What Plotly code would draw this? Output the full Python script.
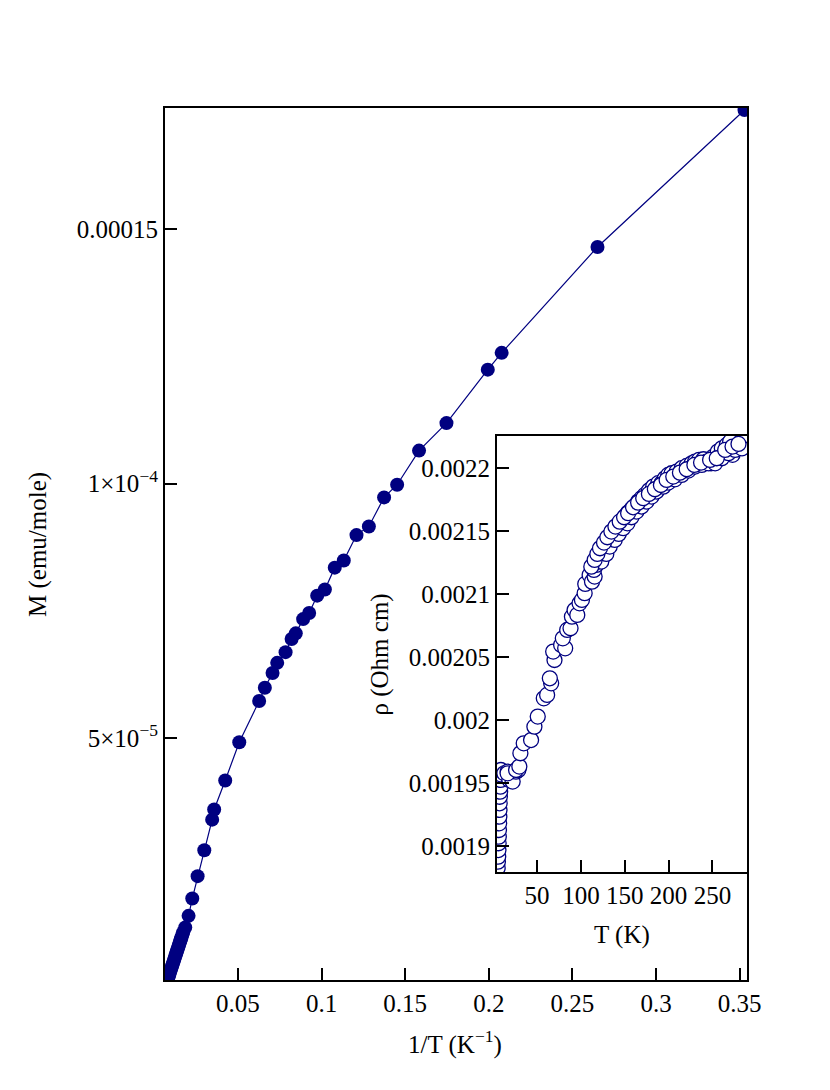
import plotly.graph_objects as go

# main panel: magnetisation vs inverse temperature
inv_T = [0.3529, 0.2650, 0.2077, 0.1994, 0.1747, 0.1583, 0.1452, 0.1374, 0.1283, 0.1209,
         0.1133, 0.1079, 0.1020, 0.0974, 0.0926, 0.0890, 0.0846, 0.0821, 0.0785, 0.0735,
         0.0707, 0.0661, 0.0627, 0.0508, 0.0424, 0.0358, 0.0346, 0.0299, 0.0259, 0.0227,
         0.0205, 0.0185, 0.0173, 0.0168, 0.0163, 0.0159, 0.0155, 0.0151, 0.0147, 0.0143,
         0.0139, 0.0135, 0.0131, 0.0127, 0.0123, 0.0119, 0.0115, 0.0111, 0.0107, 0.0103,
         0.0099, 0.0095, 0.0091, 0.0087, 0.0083, 0.0079, 0.0075, 0.0071, 0.0067, 0.0063]
M_emu = [1.734e-4, 1.465e-4, 1.257e-4, 1.224e-4, 1.119e-4, 1.065e-4, 0.998e-4, 0.973e-4, 0.916e-4, 0.899e-4,
         0.849e-4, 0.835e-4, 0.792e-4, 0.780e-4, 0.746e-4, 0.734e-4, 0.706e-4, 0.695e-4, 0.669e-4, 0.648e-4,
         0.628e-4, 0.599e-4, 0.573e-4, 0.492e-4, 0.417e-4, 0.360e-4, 0.340e-4, 0.280e-4, 0.229e-4, 0.185e-4,
         0.151e-4, 0.128e-4, 0.119e-4, 0.114e-4, 0.109e-4, 0.105e-4, 0.101e-4, 0.097e-4, 0.093e-4, 0.089e-4,
         0.085e-4, 0.081e-4, 0.077e-4, 0.073e-4, 0.069e-4, 0.065e-4, 0.061e-4, 0.057e-4, 0.053e-4, 0.049e-4,
         0.045e-4, 0.041e-4, 0.037e-4, 0.033e-4, 0.029e-4, 0.025e-4, 0.021e-4, 0.017e-4, 0.013e-4, 0.009e-4]

# inset: resistivity vs temperature
T_K = [5.0, 5.3, 5.6, 5.9, 6.1, 6.3, 6.5, 6.7, 6.9, 7.1, 7.3, 7.5, 7.8, 8.1, 8.5, 8.8,
       8.7, 12.6, 16.4, 18.3, 22.1, 25.9, 28.6, 16.3, 26.0, 29.7,
       30.9, 34.7, 43.1, 46.9, 50.7, 57.6, 61.4, 66.0, 64.5, 69.8, 68.3, 77.4, 82.0, 79.3,
       84.3, 88.1, 89.7, 92.7, 95.8, 98.4, 101.1, 104.2, 104.9, 109.9, 112.6, 115.6, 114.8,
       117.5, 120.2, 122.5, 125.2, 127.8, 130.9, 133.9, 136.6, 139.3, 142.3, 145.4, 148.1,
       150.7, 153.8, 157.6, 161.4, 165.2, 169.1, 172.9, 177.5, 182.4, 188.1, 191.9, 195.8,
       199.6, 203.4, 209.1, 214.9, 220.6, 226.3, 230.1, 234.7, 239.7, 243.5, 248.4, 251.1,
       256.1, 260.7, 266.4, 270.2, 272.9, 277.8, 282.8, 286.6,
       123.2, 128.9, 132.8, 138.5, 143.1, 148.1, 153.0, 157.6, 163.3, 169.1, 174.8, 180.5,
       186.2, 193.9, 199.6, 207.2, 214.9, 222.5, 230.1, 237.8, 245.4, 253.0, 260.7, 268.3,
       275.9, 283.6,
       111.8, 115.6, 118.7, 121.7, 126.3, 130.1, 134.7, 139.3, 144.2, 149.2, 153.8, 159.5,
       165.2, 171.0, 177.5, 184.3, 191.2, 197.7, 205.3, 212.9, 220.6, 229.4, 237.0, 247.3,
       254.9, 264.5, 272.9, 279.7]
rho = [0.0018828, 0.0018878, 0.0018917, 0.0018970, 0.0019024, 0.0019076, 0.0019129, 0.0019182,
       0.0019235, 0.0019288, 0.0019341, 0.0019393, 0.0019433, 0.0019473, 0.0019526, 0.0019570,
       0.0019605, 0.0019579, 0.0019592, 0.0019526, 0.0019513, 0.0019592, 0.0019605, 0.0019579,
       0.0019605, 0.0019632,
       0.0019738, 0.0019817, 0.0019843, 0.0019949, 0.0020029, 0.0020174, 0.0020201, 0.0020293,
       0.0020333, 0.0020478, 0.0020545, 0.0020598, 0.0020571, 0.0020650, 0.0020717, 0.0020730,
       0.0020822, 0.0020875, 0.0020836, 0.0020928, 0.0020955, 0.0021008, 0.0021082, 0.0021153,
       0.0021100, 0.0021140, 0.0021193, 0.0021233, 0.0021259, 0.0021299, 0.0021338, 0.0021373,
       0.0021404, 0.0021444, 0.0021471, 0.0021497, 0.0021531, 0.0021563, 0.0021590, 0.0021621,
       0.0021648, 0.0021674, 0.0021701, 0.0021735, 0.0021762, 0.0021788, 0.0021823, 0.0021854,
       0.0021881, 0.0021881, 0.0021920, 0.0021947, 0.0021960, 0.0021973, 0.0022000, 0.0022018,
       0.0022039, 0.0022053, 0.0022066, 0.0022071, 0.0022053, 0.0022039, 0.0022092, 0.0022132,
       0.0022158, 0.0022185, 0.0022211, 0.0022106, 0.0022158, 0.0022185, 0.0022211,
       0.0021259, 0.0021320, 0.0021378, 0.0021431, 0.0021479, 0.0021524, 0.0021563, 0.0021611,
       0.0021656, 0.0021696, 0.0021735, 0.0021775, 0.0021815, 0.0021854, 0.0021886, 0.0021912,
       0.0021947, 0.0021981, 0.0022013, 0.0022026, 0.0022039, 0.0022039, 0.0022079, 0.0022119,
       0.0022145, 0.0022158,
       0.0021219, 0.0021272, 0.0021320, 0.0021365, 0.0021410, 0.0021452, 0.0021497, 0.0021537,
       0.0021576, 0.0021611, 0.0021643, 0.0021690, 0.0021727, 0.0021762, 0.0021796, 0.0021833,
       0.0021867, 0.0021907, 0.0021934, 0.0021965, 0.0021992, 0.0022026, 0.0022045, 0.0022066,
       0.0022079, 0.0022145, 0.0022172, 0.0022193]

main_xticks = [0.05, 0.1, 0.15, 0.2, 0.25, 0.3, 0.35]
main_xticklabels = ["0.05", "0.1", "0.15", "0.2", "0.25", "0.3", "0.35"]
main_yticks = [5e-5, 1e-4, 1.5e-4]
main_yticklabels = ["5\u00d710<sup>\u22125</sup>", "1\u00d710<sup>\u22124</sup>", "0.00015"]
inset_xticks = [50, 100, 150, 200, 250]
inset_yticks = [0.0019, 0.00195, 0.002, 0.00205, 0.0021, 0.00215, 0.0022]
inset_yticklabels = ["0.0019", "0.00195", "0.002", "0.00205", "0.0021", "0.00215", "0.0022"]

navy = "#000080"
serif = "Liberation Serif"
fsize = 25

fig = go.Figure()

fig.add_trace(go.Scatter(
    x=inv_T, y=M_emu, mode="lines+markers",
    line=dict(color=navy, width=1.2),
    marker=dict(color=navy, size=14),
    xaxis="x", yaxis="y", showlegend=False,
))

fig.add_trace(go.Scatter(
    x=T_K, y=rho, mode="markers",
    marker=dict(color="white", size=15, line=dict(color=navy, width=1.3)),
    xaxis="x2", yaxis="y2", showlegend=False,
))

axis_common = dict(
    showgrid=False, zeroline=False, showline=True, linecolor="black", linewidth=2,
    mirror=True, ticks="inside", ticklen=12, tickwidth=1.5, tickcolor="black",
    tickangle=0, tickfont=dict(family=serif, size=fsize, color="black"),
)

# page has an 8px body margin, so the figure is drawn 8px in and 8px down
fig.update_layout(
    width=822, height=1082,
    margin=dict(l=157, r=83, t=100, b=110),
    paper_bgcolor="white", plot_bgcolor="white",
    font=dict(family=serif, size=fsize, color="black"),
    xaxis=dict(axis_common, domain=[0, 1], range=[0.0064, 0.3544],
               tickvals=main_xticks, ticktext=main_xticklabels),
    yaxis=dict(axis_common, domain=[0, 1], range=[2.5e-6, 1.738e-4],
               tickvals=main_yticks, ticktext=main_yticklabels),
    xaxis2=dict(axis_common, domain=[0.5704, 1.0], range=[4.2, 289.4], anchor="y2",
                tickvals=inset_xticks),
    yaxis2=dict(axis_common, domain=[0.1239, 0.6239], range=[0.0018796, 0.0022256], anchor="x2",
                tickvals=inset_yticks, ticktext=inset_yticklabels),
)

# axis titles
titles = [
    ("1/T (K<sup>\u22121</sup>)", 0.498, -0.072, 0),
    ("M (emu/mole)", -0.218, 0.499, -90),
    ("T (K)", 0.785, 0.052, 0),
    ("\u03c1 (Ohm cm)", 0.369, 0.373, -90),
]
for txt, ax, ay, ang in titles:
    fig.add_annotation(text=txt, x=ax, y=ay, xref="paper", yref="paper",
                       xanchor="center", yanchor="middle", textangle=ang,
                       showarrow=False, font=dict(family=serif, size=fsize, color="black"))

# white background behind the inset so the main curve does not show through
fig.add_shape(type="rect", xref="paper", yref="paper", x0=0.5704, x1=1.0, y0=0.1239, y1=0.6239,
              fillcolor="white", line=dict(width=0), layer="below")

fig.write_html("out.html")
